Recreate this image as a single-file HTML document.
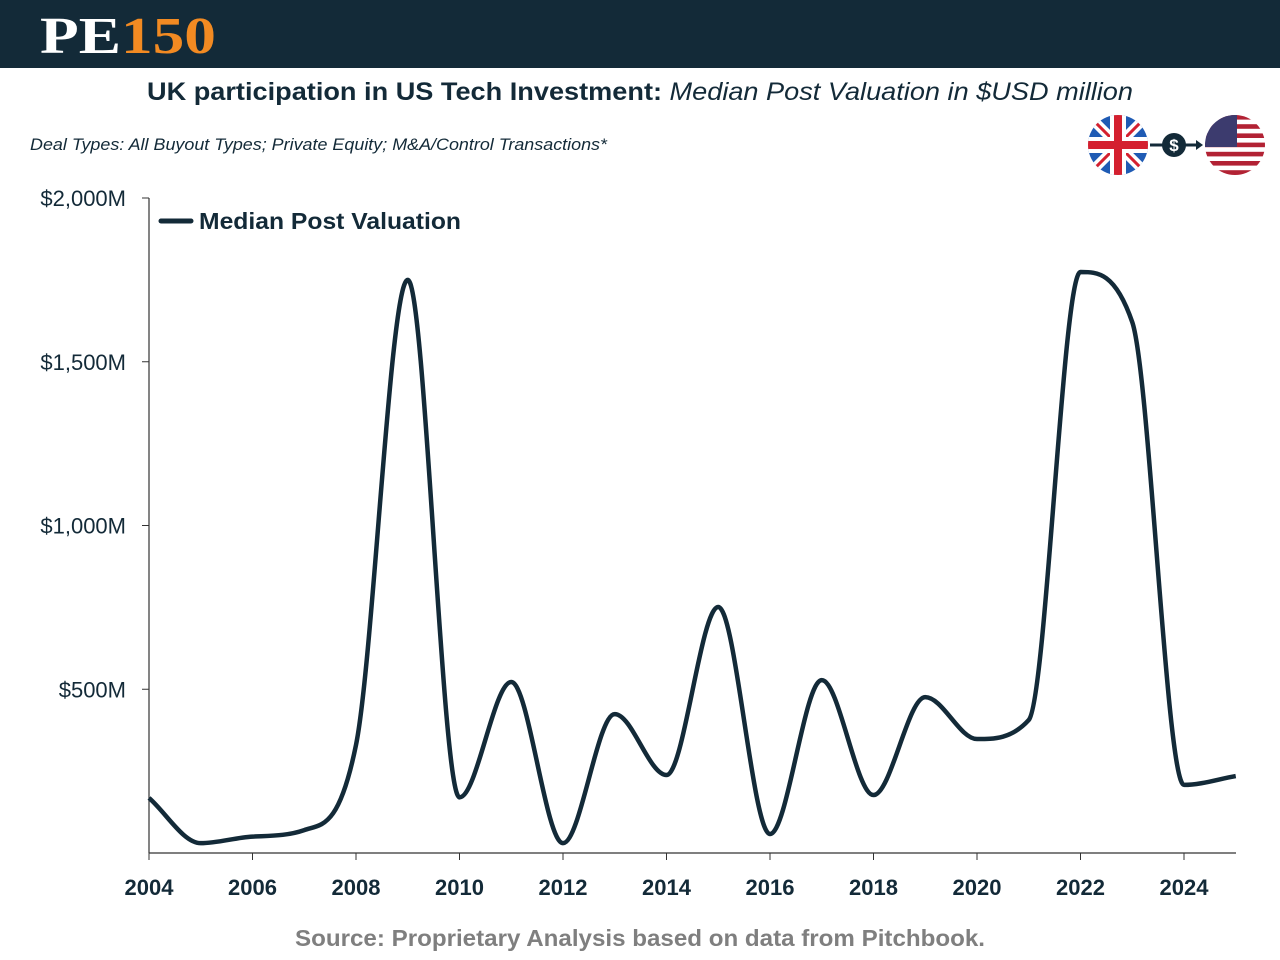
<!DOCTYPE html>
<html><head><meta charset="utf-8"><style>
body{margin:0;width:1280px;height:960px;background:#fff;overflow:hidden;font-family:"Liberation Sans",sans-serif}
svg{display:block}
</style></head><body>
<svg id="chart" width="1280" height="960" xmlns="http://www.w3.org/2000/svg">
<rect x="0" y="0" width="1280" height="68" fill="#132a38"/>
<text x="40" y="53" font-family="Liberation Serif,serif" font-weight="bold" font-size="52" fill="#fff" textLength="176" lengthAdjust="spacingAndGlyphs">PE<tspan fill="#f28a22">150</tspan></text>
<text x="640" y="100" text-anchor="middle" font-size="25" fill="#132a38" textLength="986" lengthAdjust="spacingAndGlyphs"><tspan font-weight="bold">UK participation in US Tech Investment: </tspan><tspan font-style="italic">Median Post Valuation in $USD million</tspan></text>
<text x="30" y="150" font-size="17" font-style="italic" fill="#132a38" textLength="577" lengthAdjust="spacingAndGlyphs">Deal Types: All Buyout Types; Private Equity; M&amp;A/Control Transactions*</text>
<g>
<clipPath id="uk"><circle cx="1118" cy="145" r="30"/></clipPath>
<g clip-path="url(#uk)">
<rect x="1088" y="115" width="60" height="60" fill="#1f5bb4"/>
<path d="M1088 115L1148 175M1148 115L1088 175" stroke="#fff" stroke-width="10"/>
<path d="M1088 115L1148 175M1148 115L1088 175" stroke="#d4202f" stroke-width="3"/>
<rect x="1088" y="137" width="60" height="16" fill="#fff"/><rect x="1110" y="115" width="16" height="60" fill="#fff"/>
<rect x="1088" y="141" width="60" height="8" fill="#d4202f"/><rect x="1114" y="115" width="8" height="60" fill="#d4202f"/>
</g>
<line x1="1150" y1="145" x2="1196" y2="145" stroke="#132a38" stroke-width="3"/>
<path d="M1196 140L1203 145L1196 150Z" fill="#132a38"/>
<circle cx="1174" cy="145" r="12" fill="#132a38"/>
<text x="1174" y="151" text-anchor="middle" font-size="17" font-weight="bold" fill="#fff">$</text>
<clipPath id="us"><circle cx="1235" cy="145" r="30"/></clipPath>
<g clip-path="url(#us)">
<rect x="1205" y="115" width="60" height="60" fill="#fff"/>
<g fill="#b22234"><rect x="1205" y="115" width="60" height="4.6"/><rect x="1205" y="124.2" width="60" height="4.6"/><rect x="1205" y="133.4" width="60" height="4.6"/><rect x="1205" y="142.6" width="60" height="4.6"/><rect x="1205" y="151.8" width="60" height="4.6"/><rect x="1205" y="161" width="60" height="4.6"/><rect x="1205" y="170.2" width="60" height="4.8"/></g>
<rect x="1205" y="115" width="32" height="32" fill="#3c3b6e"/>
</g>
</g>
<g id="axes"></g>
<path id="line" fill="none" stroke="#132a38" stroke-width="4.5" stroke-linejoin="round"/>
<line x1="161" y1="221" x2="191" y2="221" stroke="#132a38" stroke-width="5" stroke-linecap="round"/>
<text x="199" y="229" font-size="23" font-weight="bold" fill="#132a38" textLength="262" lengthAdjust="spacingAndGlyphs">Median Post Valuation</text>
<text x="640" y="946" text-anchor="middle" font-size="23" font-weight="bold" fill="#7f7f7f" textLength="690" lengthAdjust="spacingAndGlyphs">Source: Proprietary Analysis based on data from Pitchbook.</text>
</svg>
<script>
const years=[2004,2005,2006,2007,2008,2009,2010,2011,2012,2013,2014,2015,2016,2017,2018,2019,2020,2021,2022,2023,2024,2025];
const values=[168,30,50,70,330,1750,170,522,30,424,238,751,58,528,177,476,348,406,1774,1621,208,235];
const yTicks=[500,1000,1500,2000];
const yTickLabels=["$500M","$1,000M","$1,500M","$2,000M"];
const xTicks=[2004,2006,2008,2010,2012,2014,2016,2018,2020,2022,2024];
const NS="http://www.w3.org/2000/svg";
const x=v=>149+(v-2004)*51.75;
const y=v=>853-v*0.3275;
const ax=document.getElementById('axes');
function mk(t,a){const e=document.createElementNS(NS,t);for(const k in a)e.setAttribute(k,a[k]);ax.appendChild(e);return e;}
let e=mk('line',{x1:149,y1:198,x2:149,y2:853,stroke:'#333','stroke-width':1.2});


e=mk('line',{x1:149,y1:853,x2:1236,y2:853,stroke:'#333','stroke-width':1.2});


yTicks.forEach((t,i)=>{
 mk('line',{x1:142,y1:y(t),x2:149,y2:y(t),stroke:'#333'});
 const l=mk('text',{x:126,y:y(t)+8,'text-anchor':'end','font-size':22,fill:'#132a38'});l.textContent=yTickLabels[i];
 
 
});
xTicks.forEach(t=>{
 mk('line',{x1:x(t),y1:853,x2:x(t),y2:860,stroke:'#333'});
 const l=mk('text',{x:x(t),y:895,'text-anchor':'middle','font-size':22,'font-weight':'bold',fill:'#132a38'});l.textContent=t;
 
 
});
// monotone cubic (Fritsch-Carlson)
const p=years.map((yr,i)=>[x(yr),y(values[i])]);
const n=p.length,sl=[],m=[];
for(let i=0;i<n-1;i++)sl.push((p[i+1][1]-p[i][1])/(p[i+1][0]-p[i][0]));
for(let i=0;i<n;i++){
 if(i===0)m.push(sl[0]);else if(i===n-1)m.push(sl[n-2]);
 else m.push(sl[i-1]*sl[i]<=0?0:(sl[i-1]+sl[i])/2);
}
for(let i=0;i<n-1;i++){
 if(sl[i]===0){m[i]=0;m[i+1]=0;continue;}
 const a=m[i]/sl[i],b=m[i+1]/sl[i],s=a*a+b*b;
 if(s>9){const t=3/Math.sqrt(s);m[i]=t*a*sl[i];m[i+1]=t*b*sl[i];}
}
let d='M'+p[0][0]+' '+p[0][1];
for(let i=0;i<n-1;i++){
 const h=(p[i+1][0]-p[i][0])/3;
 d+=` C${p[i][0]+h} ${p[i][1]+m[i]*h} ${p[i+1][0]-h} ${p[i+1][1]-m[i+1]*h} ${p[i+1][0]} ${p[i+1][1]}`;
}
document.getElementById('line').setAttribute('d',d);
</script>
</body></html>
